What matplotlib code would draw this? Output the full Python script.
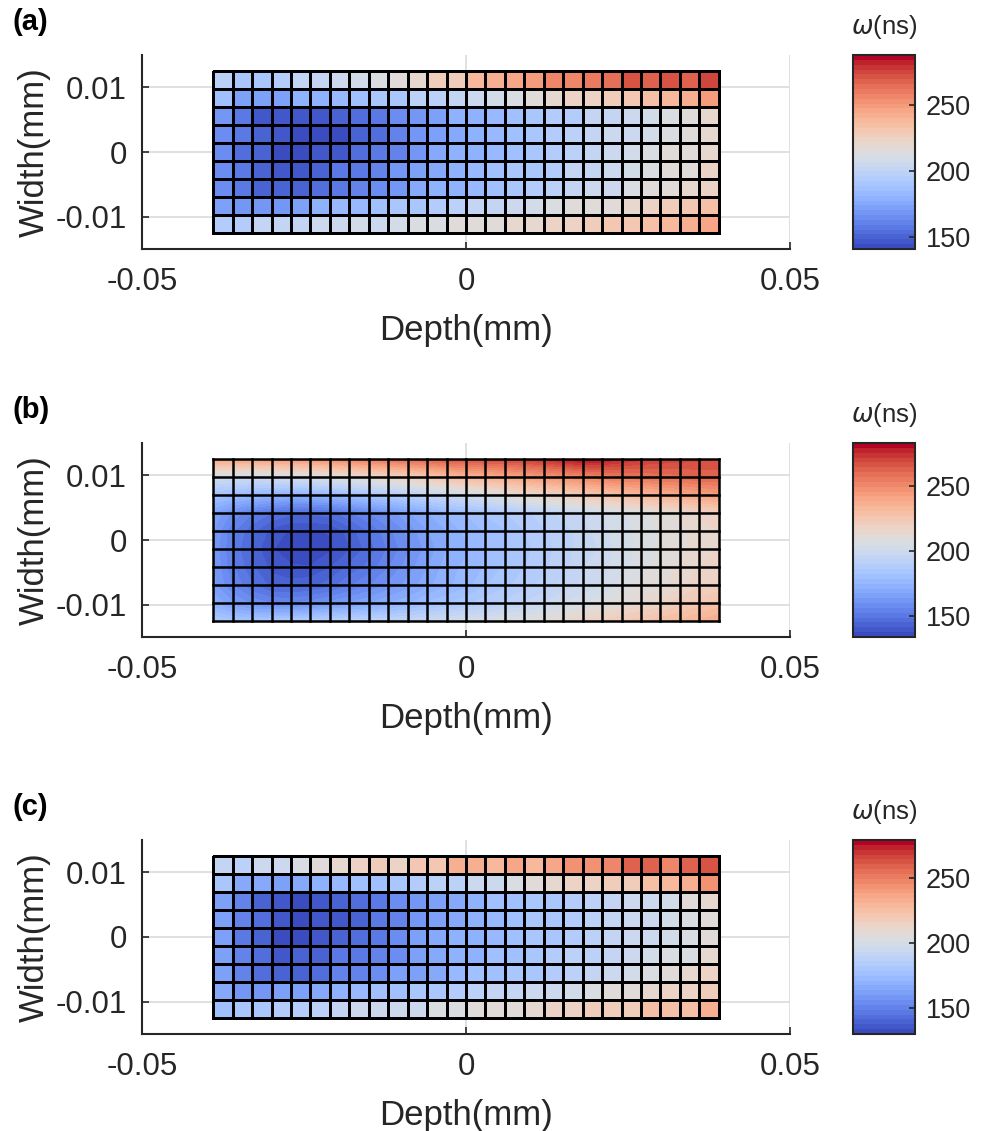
import matplotlib
matplotlib.use('Agg')
import matplotlib.pyplot as plt
import numpy as np
from matplotlib.colors import Normalize
from matplotlib.cm import ScalarMappable

plt.rcParams['font.family'] = ['Liberation Sans', 'DejaVu Sans']
plt.rcParams['mathtext.fontset'] = 'dejavusans'

# ---- grid (mm) ----
depth_edges = np.linspace(-0.039, 0.039, 27)
width_edges = np.linspace(0.0125, -0.0125, 10)

# ---- (a) cell values, omega in ns (rows top -> bottom) ----
omega_a = np.array([
    [197, 191, 190, 194, 201, 201, 206, 209, 212, 215, 219, 226, 229, 239, 241, 247, 248, 257, 257, 259, 264, 272, 266, 270, 269, 276],
    [188, 173, 172, 173, 178, 181, 185, 187, 190, 192, 197, 198, 201, 204, 209, 212, 217, 220, 222, 225, 228, 232, 235, 237, 242, 251],
    [167, 159, 148, 145, 145, 145, 151, 154, 159, 166, 170, 173, 178, 181, 185, 188, 191, 194, 195, 200, 203, 206, 210, 213, 217, 220],
    [165, 156, 150, 145, 144, 144, 144, 150, 154, 162, 167, 173, 176, 181, 184, 187, 190, 194, 197, 201, 204, 207, 210, 213, 217, 219],
    [165, 154, 150, 144, 144, 145, 148, 153, 157, 163, 169, 175, 178, 181, 185, 188, 191, 194, 197, 201, 204, 209, 212, 215, 217, 219],
    [165, 156, 151, 148, 148, 150, 156, 159, 163, 169, 173, 176, 179, 182, 187, 190, 192, 195, 200, 203, 206, 210, 213, 216, 217, 222],
    [166, 157, 151, 150, 151, 154, 159, 163, 166, 170, 175, 178, 181, 184, 188, 192, 195, 198, 201, 204, 207, 212, 215, 217, 219, 223],
    [173, 170, 167, 170, 173, 178, 182, 185, 187, 190, 192, 195, 198, 201, 203, 206, 209, 212, 215, 215, 216, 220, 223, 226, 231, 235],
    [195, 195, 200, 201, 203, 204, 207, 209, 206, 209, 213, 213, 215, 215, 217, 219, 219, 222, 225, 226, 231, 232, 235, 238, 242, 247],
])

# ---- (b) node values, omega in ns (rows top -> bottom) ----
omega_b = np.array([
    [240, 241, 242, 243, 245, 246, 248, 251, 254, 257, 259, 262, 265, 266, 268, 269, 271, 274, 278, 282, 280, 276, 273, 271, 270, 269, 268],
    [201, 200, 200, 201, 203, 204, 207, 210, 213, 216, 219, 223, 228, 232, 235, 238, 241, 244, 247, 250, 253, 255, 256, 258, 259, 261, 262],
    [182, 179, 176, 174, 173, 174, 176, 179, 183, 186, 189, 194, 197, 201, 204, 209, 213, 216, 219, 223, 226, 229, 232, 235, 238, 241, 243],
    [167, 159, 153, 149, 146, 146, 147, 152, 156, 161, 167, 171, 176, 179, 183, 186, 189, 192, 195, 198, 201, 204, 207, 210, 213, 217, 220],
    [164, 153, 146, 140, 137, 137, 138, 143, 149, 155, 161, 167, 171, 176, 179, 182, 186, 189, 192, 195, 200, 203, 206, 209, 211, 214, 216],
    [164, 152, 144, 138, 136, 134, 137, 141, 147, 153, 159, 165, 171, 174, 179, 182, 185, 188, 192, 195, 198, 203, 206, 209, 211, 214, 216],
    [164, 153, 146, 140, 138, 138, 141, 146, 150, 156, 162, 167, 173, 176, 179, 183, 186, 189, 192, 197, 200, 203, 207, 210, 213, 216, 217],
    [165, 156, 149, 144, 143, 144, 147, 152, 156, 161, 165, 170, 174, 177, 182, 185, 188, 191, 195, 198, 201, 206, 209, 211, 214, 219, 220],
    [171, 164, 159, 156, 156, 158, 161, 164, 167, 171, 174, 179, 182, 185, 188, 191, 194, 197, 201, 204, 207, 211, 214, 217, 222, 225, 228],
    [186, 183, 183, 185, 186, 188, 189, 191, 192, 194, 195, 198, 201, 203, 204, 207, 209, 211, 214, 217, 220, 223, 226, 229, 232, 235, 238],
])

# ---- (c) cell values, omega in ns (rows top -> bottom) ----
omega_c = np.array([
    [193, 187, 194, 197, 202, 205, 209, 212, 216, 215, 222, 222, 231, 231, 230, 237, 230, 237, 243, 243, 249, 258, 258, 249, 257, 263],
    [179, 166, 164, 161, 164, 169, 173, 176, 178, 181, 185, 188, 188, 194, 197, 202, 205, 209, 212, 215, 216, 219, 225, 228, 231, 242],
    [163, 151, 140, 134, 133, 134, 140, 142, 145, 154, 157, 161, 166, 169, 175, 176, 181, 182, 185, 187, 191, 197, 197, 200, 205, 209],
    [163, 152, 142, 134, 133, 134, 134, 139, 145, 152, 158, 163, 167, 170, 173, 176, 179, 182, 185, 188, 191, 194, 196, 199, 203, 205],
    [163, 148, 140, 133, 133, 134, 139, 143, 148, 155, 160, 164, 169, 170, 173, 176, 179, 181, 185, 188, 191, 194, 197, 200, 203, 207],
    [163, 151, 142, 137, 139, 140, 145, 148, 151, 155, 161, 166, 169, 170, 175, 178, 181, 184, 187, 188, 193, 197, 200, 202, 203, 209],
    [163, 151, 143, 139, 140, 143, 149, 152, 155, 160, 163, 167, 172, 175, 176, 179, 182, 185, 188, 191, 194, 199, 202, 207, 210, 213],
    [166, 158, 157, 160, 160, 166, 170, 172, 175, 178, 181, 182, 184, 187, 191, 193, 196, 197, 200, 202, 205, 206, 209, 212, 215, 219],
    [178, 181, 182, 185, 185, 188, 191, 194, 194, 194, 196, 202, 202, 205, 205, 205, 209, 212, 213, 216, 218, 219, 224, 225, 225, 234],
])

# colour limits
clims = [(141, 288), (134, 283), (130, 279)]
panel_names = ['(a)', '(b)', '(c)']
cbar_ticks = [150, 200, 250]

n_levels = 40
cmap = plt.get_cmap('coolwarm', n_levels)
text_color = '#262626'

fig = plt.figure(figsize=(9.89, 11.31), dpi=100)

# pixel boxes of the three panels (top, bottom)
panel_rows = [(55, 249), (443, 637), (840, 1034)]
W, H = 989, 1131


def style_axes(ax):
    ax.set_xlim(-0.05, 0.05)
    ax.set_ylim(-0.015, 0.015)
    ax.set_xticks([-0.05, 0, 0.05])
    ax.set_xticklabels(['-0.05', '0', '0.05'])
    ax.set_yticks([-0.01, 0, 0.01])
    ax.set_yticklabels(['-0.01', '0', '0.01'])
    ax.spines['top'].set_visible(False)
    ax.spines['right'].set_visible(False)
    for s in ['left', 'bottom']:
        ax.spines[s].set_color(text_color)
        ax.spines[s].set_linewidth(1.5)
    ax.tick_params(direction='in', length=5, width=1.2, colors=text_color,
                   labelsize=22.5, labelcolor=text_color)
    ax.tick_params(axis='x', pad=13)
    ax.tick_params(axis='y', pad=11)
    ax.grid(True, color='#e0e0e0', linewidth=1.4)
    ax.set_axisbelow(True)
    ax.set_xlabel('Depth(mm)', fontsize=25, color=text_color, labelpad=12)
    ax.set_ylabel('Width(mm)', fontsize=25, color=text_color, labelpad=3)


for k, (top, bot) in enumerate(panel_rows):
    ax = fig.add_axes([142 / W, 1 - bot / H, 648 / W, (bot - top) / H])
    vmin, vmax = clims[k]
    norm = Normalize(vmin=vmin, vmax=vmax)

    if k == 1:
        levels = np.linspace(vmin, vmax, n_levels + 1)
        ax.contourf(depth_edges, width_edges, omega_b, levels=levels,
                    cmap=cmap, norm=norm, zorder=2)
        # overlay the cell grid
        for x in depth_edges:
            ax.plot([x, x], [width_edges[-1], width_edges[0]], color='k',
                    linewidth=1.8, zorder=3, solid_capstyle='projecting')
        for y in width_edges:
            ax.plot([depth_edges[0], depth_edges[-1]], [y, y], color='k',
                    linewidth=1.8, zorder=3, solid_capstyle='projecting')
    else:
        data = omega_a if k == 0 else omega_c
        ax.pcolormesh(depth_edges, width_edges, data, cmap=cmap, norm=norm,
                      edgecolors='k', linewidth=1.8, zorder=2)

    style_axes(ax)

    # colorbar
    cax = fig.add_axes([853 / W, 1 - bot / H, 62 / W, (bot - top) / H])
    sm = ScalarMappable(norm=norm, cmap=cmap)
    cbar = fig.colorbar(sm, cax=cax, ticks=cbar_ticks)
    cbar.outline.set_edgecolor(text_color)
    cbar.outline.set_linewidth(1.5)
    cax.tick_params(direction='in', length=4, width=1.2, colors=text_color,
                    labelsize=19.5, pad=8)
    cax.text(0.5, 1.07, r'$\omega$(ns)', transform=cax.transAxes,
             ha='center', va='bottom', fontsize=18.5, color=text_color)

    # panel label
    fig.text(13 / W, 1 - (top - 33) / H, panel_names[k], fontsize=21,
             fontweight='bold', ha='left', va='center', color='k')

fig.savefig('out.png', dpi=100)
